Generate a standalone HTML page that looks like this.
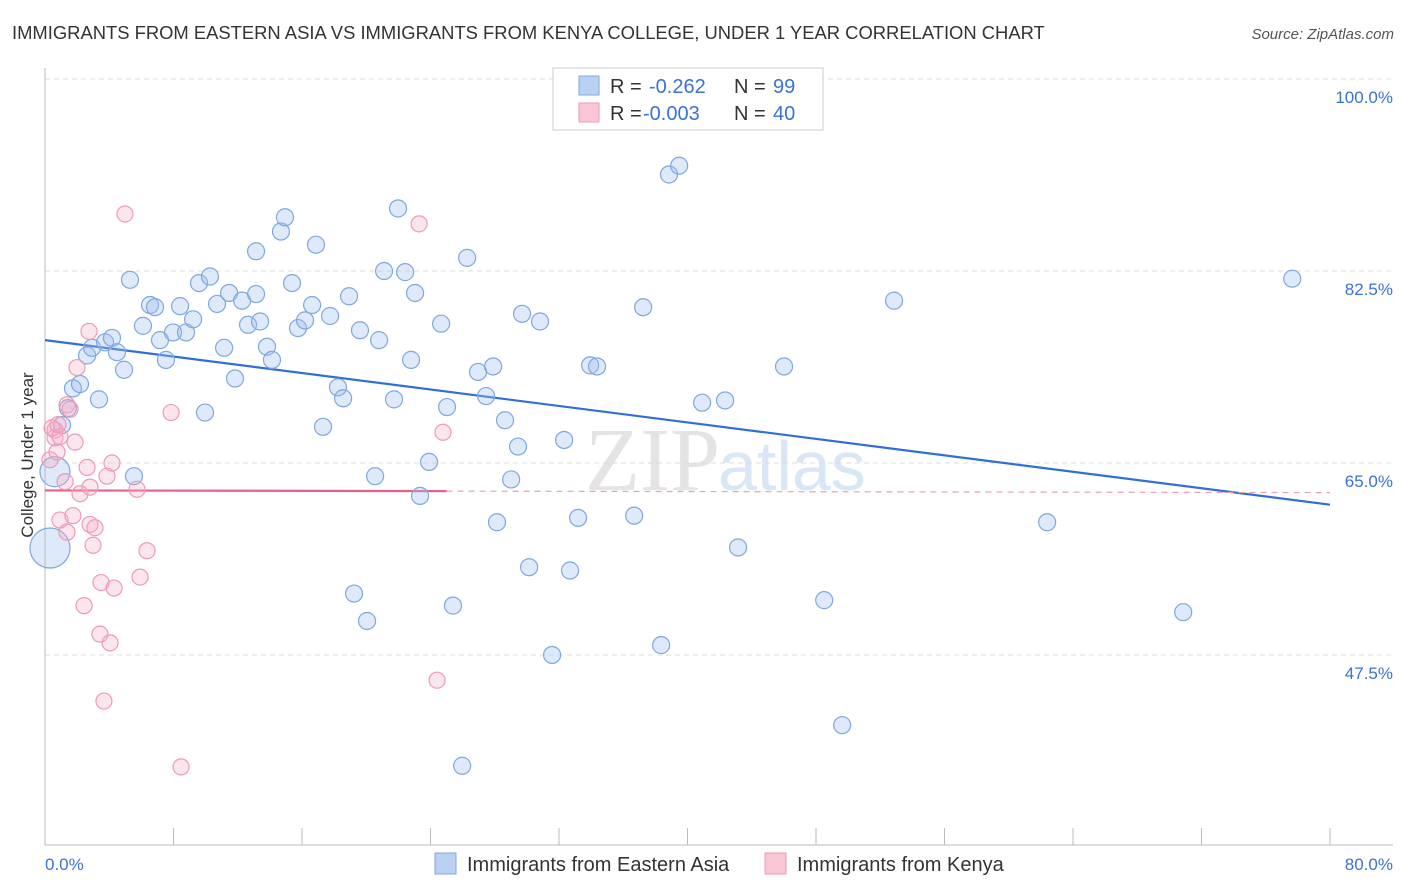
<!DOCTYPE html>
<html><head><meta charset="utf-8"><style>
body{margin:0;background:#fff;font-family:"Liberation Sans",sans-serif;}
svg{display:block}
</style></head><body>
<svg id="chart" width="1406" height="892" xmlns="http://www.w3.org/2000/svg">
<text x="12" y="39" font-size="18.4" fill="#333">IMMIGRANTS FROM EASTERN ASIA VS IMMIGRANTS FROM KENYA COLLEGE, UNDER 1 YEAR CORRELATION CHART</text>
<text x="1394" y="39" font-size="15" fill="#555" font-style="italic" text-anchor="end">Source: ZipAtlas.com</text>
<text transform="translate(33,455) rotate(-90)" font-size="17" fill="#333" text-anchor="middle">College, Under 1 year</text>
<text x="720" y="490" font-size="90" fill="#e4e4e4" text-anchor="end" font-family="Liberation Serif,serif">ZIP</text>
<text x="718" y="490" font-size="70" fill="#d8e6f6">atlas</text>
<g id="grid"></g><g id="axes"></g><g id="lines"></g><g id="pts"></g>
<g>
<rect x="553" y="68" width="270" height="62" fill="#fff" stroke="#ccc"/>
<rect x="579" y="76" width="20" height="19" fill="#b9d2f3" stroke="#7fa7e0"/>
<rect x="579" y="103" width="20" height="19" fill="#f9c6d5" stroke="#ef9ab5"/>
<text x="610" y="93" font-size="20" fill="#333">R = <tspan fill="#3a72d8" x="649">-0.262</tspan><tspan x="734" fill="#333">N = </tspan><tspan fill="#3a72d8" x="773">99</tspan></text>
<text x="610" y="120" font-size="20" fill="#333">R = <tspan fill="#3a72d8" x="643">-0.003</tspan><tspan x="734" fill="#333">N = </tspan><tspan fill="#3a72d8" x="773">40</tspan></text>
</g>
<g>
<rect x="435" y="853" width="21" height="21" fill="#b9d2f3" stroke="#7fa7e0"/>
<text x="467" y="871" font-size="20" fill="#333">Immigrants from Eastern Asia</text>
<rect x="765" y="853" width="21" height="21" fill="#f9c6d5" stroke="#ef9ab5"/>
<text x="797" y="871" font-size="20" fill="#333">Immigrants from Kenya</text>
</g>
</svg>
<script>
const yTicks=[47.5,65.0,82.5,100.0];
const xLabels=["0.0%","80.0%"];
const blueX=[.31,.62,1.06,1.43,1.74,2.18,2.62,2.93,3.36,3.74,4.17,4.48,4.92,5.29,5.54,6.10,6.54,6.85,7.16,7.53,7.97,8.41,8.78,9.22,9.59,9.96,10.27,10.71,11.15,11.46,11.83,12.27,12.64,13.14,13.39,13.14,13.82,14.13,14.69,14.94,15.38,15.75,16.19,16.63,16.87,17.31,17.75,18.24,18.56,18.93,19.24,19.61,20.05,20.55,20.80,21.11,21.73,21.98,22.42,22.79,23.04,23.35,23.91,24.66,25.03,25.40,25.97,26.28,26.96,27.46,27.90,28.14,28.64,29.02,29.45,29.70,30.14,30.82,31.57,32.32,32.69,33.19,33.94,34.37,36.68,37.24,37.80,38.36,38.85,39.48,40.91,42.34,43.15,46.01,48.51,49.63,52.86,62.39,70.86,77.65];
const blueY=[57.25,64.2,68.46,70.0,71.8,72.2,74.8,75.5,70.8,76.0,76.4,75.1,73.5,81.7,63.8,77.5,79.4,79.2,76.2,74.4,76.9,79.3,76.9,78.1,81.4,69.6,82.0,79.5,75.5,80.5,72.7,79.8,77.6,80.4,77.9,84.3,75.6,74.4,86.1,87.4,81.4,77.3,78.0,79.4,84.9,68.3,78.4,71.9,70.9,80.2,53.1,77.1,50.6,63.8,76.2,82.5,70.8,88.2,82.4,74.4,80.5,62.0,65.1,77.7,70.1,52.0,37.4,83.7,73.3,71.1,73.8,59.6,68.9,63.5,66.5,78.6,55.5,77.9,47.5,67.1,55.2,60.0,73.9,73.8,60.2,79.2,96.6,48.4,91.3,92.1,70.5,70.7,57.3,73.8,52.5,41.1,79.8,59.6,51.4,81.8];
const blueBig=[20,15];
const pinkX=[.31,.62,.62,.75,.93,1.25,1.37,1.56,1.87,1.99,2.18,2.43,2.62,2.74,2.80,2.80,2.99,3.11,3.42,3.49,3.67,3.86,4.05,4.17,4.30,4.98,5.73,5.92,6.35,7.85,8.47,23.29,24.41,24.78,.93,1.74,1.37,.44,.81];
const pinkY=[65.3,68.0,67.3,66.0,67.4,63.3,70.3,69.9,66.9,73.7,62.2,52.0,64.6,77.0,62.8,59.4,57.5,59.1,49.4,54.1,43.3,63.8,48.6,65.0,53.6,87.7,62.6,54.6,57.0,69.6,37.3,86.8,45.2,67.8,59.8,60.2,58.7,68.2,68.5];
const blueTrend=[76.2,61.2];
const pinkTrend=[62.5,62.3];
const pinkSolidEnd=25;
const X=v=>45+v*1285/80, Y=v=>463-(v-65)*10.97;
const NS="http://www.w3.org/2000/svg";
function mk(p,t,a){const e=document.createElementNS(NS,t);for(const k in a)e.setAttribute(k,a[k]);document.getElementById(p).appendChild(e);return e;}
yTicks.forEach(t=>{
 const g=mk('grid','line',{x1:45,x2:1393,y1:Y(t),y2:Y(t),stroke:'#ddd','stroke-dasharray':'5,4'});
 
 
 const l=mk('grid','text',{x:1393,y:Y(t)+24,'font-size':17,fill:'#3a72d8','text-anchor':'end'});
 l.textContent=t.toFixed(1)+'%';
 
 
});
mk('axes','line',{x1:45,x2:45,y1:68,y2:845,stroke:'#bbb'});
mk('axes','line',{x1:45,x2:1393,y1:845,y2:845,stroke:'#bbb'});
for(let i=0;i<=10;i++){const t=mk('axes','line',{x1:X(i*8),x2:X(i*8),y1:828,y2:845,stroke:'#bbb'});
 
 }
[[0,45,'start'],[1,1393,'end']].forEach(([i,x,a])=>{const t=mk('axes','text',{x:x,y:870,'font-size':17,fill:'#3a72d8','text-anchor':a});t.textContent=xLabels[i];
 
 });
blueX.forEach((x,i)=>{const c=mk('pts','circle',{cx:X(x),cy:Y(blueY[i]),r:blueBig[i]||8.5,fill:'rgba(160,192,238,0.35)',stroke:'#7fa7e0','stroke-width':1.2});
 
 });
pinkX.forEach((x,i)=>{const c=mk('pts','circle',{cx:X(x),cy:Y(pinkY[i]),r:8,fill:'rgba(246,172,198,0.3)',stroke:'#ef9ab5','stroke-width':1.2});
 
 });
const bl=mk('lines','line',{x1:X(0),y1:Y(blueTrend[0]),x2:X(80),y2:Y(blueTrend[1]),stroke:'#2f6fd6','stroke-width':2.2});


const pm=pinkTrend[0]+(pinkTrend[1]-pinkTrend[0])*pinkSolidEnd/80;
const ps=mk('lines','line',{x1:X(0),y1:Y(pinkTrend[0]),x2:X(pinkSolidEnd),y2:Y(pm),stroke:'#e8608a','stroke-width':2.2});


const pd=mk('lines','line',{x1:X(pinkSolidEnd),y1:Y(pm),x2:X(80),y2:Y(pinkTrend[1]),stroke:'#e8a0b5','stroke-width':1.2,'stroke-dasharray':'6,5'});


</script>
</body></html>
